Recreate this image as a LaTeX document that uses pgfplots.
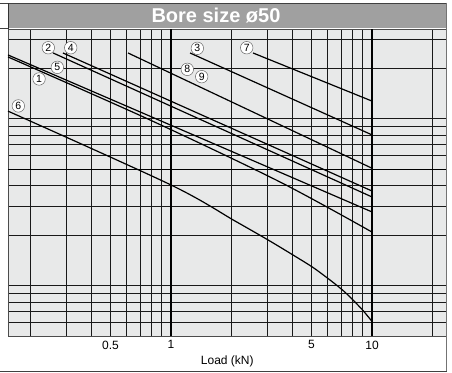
\documentclass[border=0pt]{standalone}
\usepackage{fontspec}
\setmainfont{Liberation Sans}
\usepackage{pgfplots}
\pgfplotsset{compat=1.18}
\definecolor{plotbg}{HTML}{E8E9E9}
\definecolor{titlebg}{HTML}{A0A0A0}
\tikzset{lab/.style={circle, draw=black!60, line width=0.5pt, fill=white, inner sep=0pt, minimum size=12.5pt, font=\fontsize{10.5}{10.5}\selectfont}}
\begin{document}
\begin{tikzpicture}[x=1pt,y=1pt]
\path[use as bounding box] (-8,-36) rectangle (444,336);
\fill[titlebg] (0,308) rectangle (438.6,333);
\node[text=white, font=\fontsize{20}{24}\selectfont\bfseries] at (208,320.5) {Bore size ø50};
\begin{axis}[
  at={(0,0)}, anchor=south west,
  scale only axis, width=438.6pt, height=307pt,
  xmode=log, ymode=log,
  xmin=0.1545, xmax=23.5, ymin=10, ymax=689,
  axis background/.style={fill=plotbg},
  axis line style={black!70, line width=0.6pt},
  major tick length=0pt,
  grid=major,
  major grid style={black!90, line width=0.7pt},
  xtick={0.2,0.3,0.4,0.5,0.6,0.7,0.8,0.9,2,3,4,5,6,7,8,9,20},
  xticklabels={,,,0.5,,,,,,,,5,,,,,},
  extra x ticks={1,10},
  extra x tick labels={1,10},
  extra x tick style={major grid style={black, line width=1.4pt}},
  ytick={12,14,16,18,20,40,60,80,120,140,160,180,200,400,600},
  yticklabels={},
  extra y ticks={100},
  extra y tick labels={},
  extra y tick style={major grid style={black, line width=0.9pt}},
  xticklabel style={font=\fontsize{12}{14}\selectfont, inner sep=0pt, yshift=-4.5pt},
  xlabel={Load (kN)},
  xlabel style={at={(axis description cs:0.5,0)}, anchor=center, yshift=-25pt, font=\fontsize{12}{14}\selectfont},
]
% 7
\addplot[black, line width=1.2pt] coordinates {(2.558,495) (10,255) (10,10)};
% 3
\addplot[black, line width=1.2pt] coordinates {(1.243,495) (10,160)};
% 8, 9
\addplot[black, line width=1.2pt] coordinates {(0.611,495) (10,101)};
% 4
\addplot[black, line width=1.2pt] coordinates {(0.290,495) (10,73.8)};
% 2
\addplot[black, line width=1.2pt] coordinates {(0.259,495) (10,68)};
% 5
\addplot[black, line width=1.2pt] coordinates {(0.1545,481.6) (10,55.3)};
% 1
\addplot[black, line width=1.2pt, smooth] coordinates {(0.1545,468.5) (0.786,196.6) (3.486,83.6) (10,41.9)};
% 6
\addplot[black, line width=1.2pt, smooth] coordinates {(0.1545,222) (1,80.2) (2.082,48.8) (3.038,37.6) (4.045,30.55) (5.087,25.72) (6.18,21.64) (7.175,18.73) (8.04,16.43) (9.02,14.21) (10,12.22)};
\node[lab] at (axis cs:0.2452,532) {2};
\node[lab] at (axis cs:0.3170,532) {4};
\node[lab] at (axis cs:0.2718,406) {5};
\node[lab] at (axis cs:0.2205,346) {1};
\node[lab] at (axis cs:0.1739,238.5) {6};
\node[lab] at (axis cs:1.352,528) {3};
\node[lab] at (axis cs:1.205,395) {8};
\node[lab] at (axis cs:1.421,357) {9};
\node[lab] at (axis cs:2.38,532) {7};
\end{axis}
\draw[black!75, line width=0.8pt] (-8,333) -- (438.6,333);
\draw[black!75, line width=0.8pt] (-8,308) -- (0,308);
\draw[black!80, line width=0.8pt] (0,307) -- (0,333);
\draw[black!55, line width=1.4pt] (438.6,333.4) -- (438.6,-35);
\draw[black!75, line width=0.8pt] (-8,-35) -- (439.3,-35);
\end{tikzpicture}
\end{document}
